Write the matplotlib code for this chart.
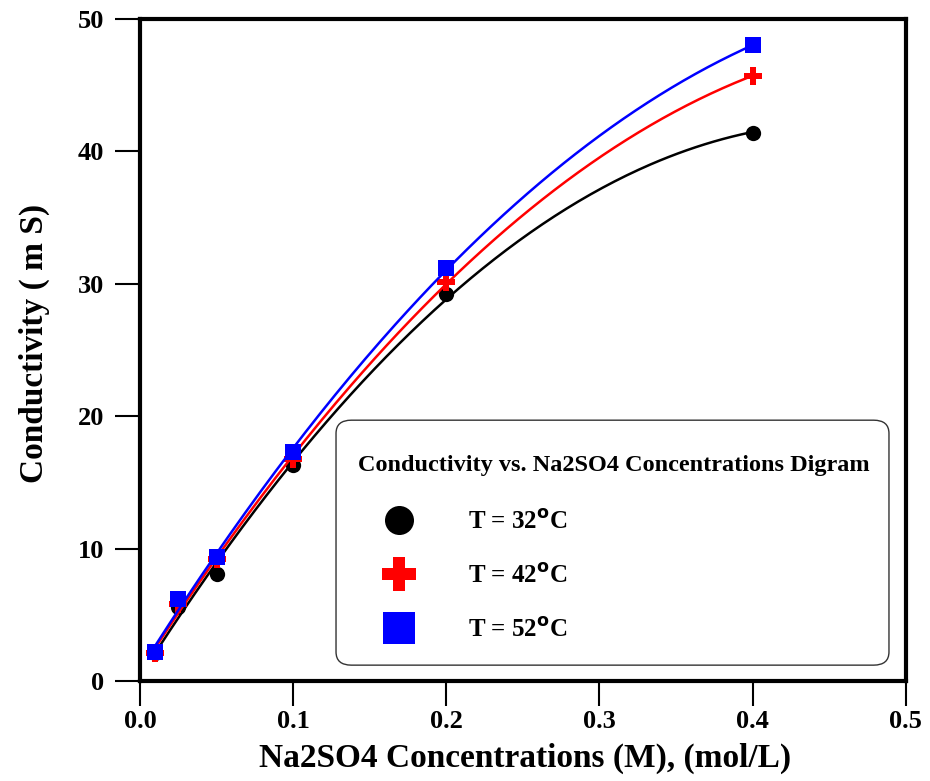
import matplotlib.pyplot as plt
import numpy as np
from matplotlib.lines import Line2D
from matplotlib.patches import FancyBboxPatch

plt.rcParams['font.family'] = ['Liberation Serif', 'DejaVu Serif']
plt.rcParams['font.weight'] = 'bold'
plt.rcParams['mathtext.fontset'] = 'custom'
plt.rcParams['mathtext.rm'] = 'Liberation Serif:bold'

# Na2SO4 concentration (mol/L) and conductivity (mS) at three temperatures
conc = [0.01, 0.025, 0.05, 0.1, 0.2, 0.4]
cond_32 = [2.1, 5.6, 8.1, 16.3, 29.2, 41.4]
cond_42 = [2.1, 5.8, 9.2, 16.8, 30.1, 45.7]
cond_52 = [2.2, 6.2, 9.4, 17.3, 31.2, 48.0]

labels = ['T = 32$^{\\mathbf{o}}$C', 'T = 42$^{\\mathbf{o}}$C', 'T = 52$^{\\mathbf{o}}$C']
colors = ['black', 'red', 'blue']
markers = ['o', 'P', 's']
msizes = [11, 13, 12]

fig = plt.figure(figsize=(9.3, 7.81), dpi=100)
ax = fig.add_axes([0.1505, 0.128, 0.8235, 0.8477])

# quadratic regression curve for each temperature
xs = np.linspace(conc[0], conc[-1], 200)
for y, c, m, ms in zip([cond_32, cond_42, cond_52], colors, markers, msizes):
    coef = np.polyfit(conc, y, 2)
    ax.plot(xs, np.polyval(coef, xs), color=c, lw=1.8)
    ax.plot(conc, y, linestyle='none', marker=m, color=c, markersize=ms,
            markeredgewidth=0)

ax.set_xlim(0, 0.5)
ax.set_ylim(0, 50)
ax.set_xticks(np.arange(0, 0.51, 0.1))
ax.set_xticklabels(['0.0', '0.1', '0.2', '0.3', '0.4', '0.5'])
ax.set_yticks(np.arange(0, 51, 10))

for s in ax.spines.values():
    s.set_linewidth(3)
ax.tick_params(direction='out', length=18, width=1.5, labelsize=19, pad=8)
ax.tick_params(axis='x', pad=3)

ax.set_xlabel('Na2SO4 Concentrations (M), (mol/L)', fontsize=24, fontweight='bold')
ax.set_ylabel('Conductivity ( m S)', fontsize=24, fontweight='bold')
ax.xaxis.set_label_coords(0.503, -0.093)
ax.yaxis.set_label_coords(-0.118, 0.51)

# legend box with rounded corners
box = FancyBboxPatch((0.256, 0.024), 0.722, 0.37, transform=ax.transAxes,
                     boxstyle='round,pad=0,rounding_size=0.02',
                     facecolor='white', edgecolor='#333333', lw=1, zorder=4)
ax.add_patch(box)
ax.text(0.619, 0.326, 'Conductivity vs. Na2SO4 Concentrations Digram',
        transform=ax.transAxes, ha='center', va='center', fontsize=17.5,
        fontweight='bold', zorder=5)

handles = [Line2D([], [], linestyle='none', marker=m, color=c, markersize=s * 1.9,
                  markeredgewidth=0) for m, c, s in zip(markers, colors, msizes)]
leg = ax.legend(handles, labels, loc='upper left', bbox_to_anchor=(0.316, 0.258),
                prop={'size': 18, 'weight': 'bold'}, frameon=False,
                borderpad=0, labelspacing=1.2, handletextpad=2.1,
                handlelength=1.35, borderaxespad=0)
leg.set_zorder(6)

fig.savefig('out.png', dpi=100)
